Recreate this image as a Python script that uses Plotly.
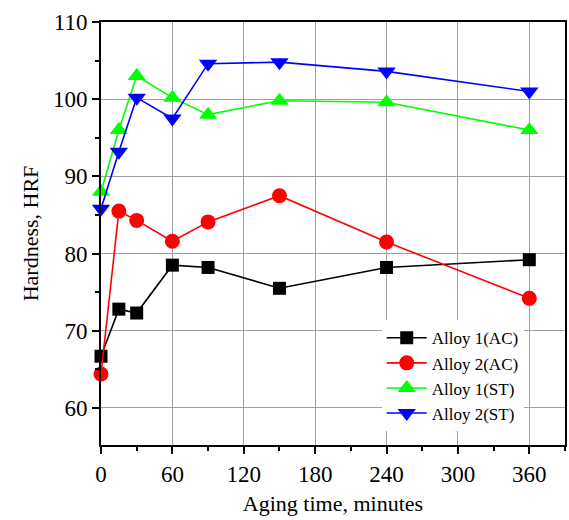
import plotly.graph_objects as go

time_min = [0, 15, 30, 60, 90, 150, 240, 360]
alloy1_ac = [66.7, 72.8, 72.3, 78.5, 78.2, 75.5, 78.2, 79.2]
alloy2_ac = [64.4, 85.5, 84.3, 81.6, 84.1, 87.5, 81.5, 74.2]
alloy1_st = [88.0, 96.0, 103.0, 100.2, 98.0, 99.8, 99.6, 96.0]
alloy2_st = [85.8, 93.2, 100.2, 97.5, 104.6, 104.8, 103.6, 101.0]

series = [
    ("Alloy 1(AC)", alloy1_ac, "black", "square", 13),
    ("Alloy 2(AC)", alloy2_ac, "red", "circle", 15),
    ("Alloy 1(ST)", alloy1_st, "#00ff00", "triangle-up", 16),
    ("Alloy 2(ST)", alloy2_st, "blue", "triangle-down", 16),
]

fig = go.Figure()
for name, vals, color, sym, sz in series:
    fig.add_trace(go.Scatter(
        x=time_min, y=vals, name=name, mode="lines+markers",
        line=dict(color=color, width=1.6),
        marker=dict(symbol=sym, size=sz, color=color, line=dict(width=0)),
        cliponaxis=False,
    ))

font = "Liberation Serif"
fig.update_layout(
    width=569, height=520,
    margin=dict(l=101, r=2, t=22, b=75),
    paper_bgcolor="white", plot_bgcolor="white",
    font=dict(family=font, color="black", size=22),
    showlegend=True,
    legend=dict(x=0.605, y=0.295, xanchor="left", yanchor="top",
                bgcolor="white", borderwidth=0,
                font=dict(family=font, size=17), tracegroupgap=0,
                itemwidth=40),
)
fig.update_xaxes(
    range=[0, 390], tickvals=[0, 60, 120, 180, 240, 300, 360],
    showgrid=True, gridcolor="#a0a0a0", gridwidth=1,
    showline=True, linecolor="black", linewidth=2, mirror=True,
    ticks="outside", ticklen=7, tickwidth=1.5, tickcolor="black",
    minor=dict(ticks="outside", ticklen=4, tickcolor="black", dtick=30, tick0=0, showgrid=False),
    zeroline=False,
    title=dict(text="Aging time, minutes", font=dict(family=font, size=22), standoff=10),
    tickfont=dict(family=font, size=23),
)
fig.update_yaxes(
    range=[55.2, 110], tickvals=[60, 70, 80, 90, 100, 110],
    showgrid=True, gridcolor="#a0a0a0", gridwidth=1,
    showline=True, linecolor="black", linewidth=2, mirror=True,
    ticks="outside", ticklen=7, tickwidth=1.5, tickcolor="black",
    minor=dict(ticks="outside", ticklen=4, tickcolor="black", dtick=5, tick0=0, showgrid=False),
    zeroline=False,
    title=dict(text="Hardness, HRF", font=dict(family=font, size=22), standoff=8),
    tickfont=dict(family=font, size=23),
)
fig.write_html("out.html")
